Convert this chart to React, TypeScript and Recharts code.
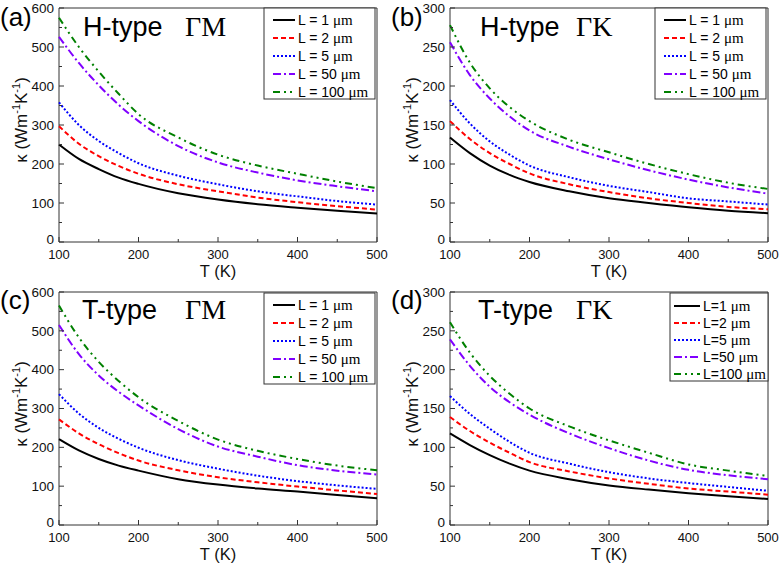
import React from "react";
import { LineChart, Line, XAxis, YAxis, ReferenceArea } from "recharts";

const temperatures = [100, 125, 150, 175, 200, 250, 300, 350, 400, 450, 500];
const xTicks = [100, 150, 200, 250, 300, 350, 400, 450, 500];
const yTicksGM = [0, 50, 100, 150, 200, 250, 300, 350, 400, 450, 500, 550, 600];
const yTicksGK = [0, 25, 50, 75, 100, 125, 150, 175, 200, 225, 250, 275, 300];
const lengthLabels = ["1", "2", "5", "50", "100"];

// (a) H-type, ΓM
const hGM1 = [250, 213, 187, 165, 149, 125, 109, 97, 88, 80, 73];
const hGM2 = [297, 252, 220, 195, 175, 148, 130, 114, 102, 92, 83];
const hGM5 = [358, 300, 259, 228, 202, 170, 148, 130, 117, 105, 96];
const hGM50 = [526, 459, 402, 352, 310, 246, 204, 178, 158, 143, 130];
const hGM100 = [575, 500, 437, 380, 328, 268, 224, 196, 175, 155, 138];

// (b) H-type, ΓK
const hGK1 = [134, 114, 98, 86, 77, 65, 56, 50, 44.5, 40, 37];
const hGK2 = [155, 132, 114, 100, 88, 74, 64, 56, 50, 45, 42];
const hGK5 = [182, 152, 129, 112, 98, 83, 72, 64, 56, 52, 48];
const hGK50 = [256, 214, 184, 161, 143, 122, 106, 92, 80, 70, 62];
const hGK100 = [278, 230, 197, 173, 155, 131, 115, 100, 87, 76, 68];

// (c) T-type, ΓM
const tGM1 = [221, 192, 170, 153, 140, 118, 104, 94, 86, 77, 69];
const tGM2 = [272, 236, 208, 185, 166, 141, 123, 110, 99, 89, 80];
const tGM5 = [337, 287, 250, 222, 199, 167, 145, 127, 113, 102, 93];
const tGM50 = [515, 440, 385, 343, 308, 247, 202, 176, 154, 140, 130];
const tGM100 = [565, 483, 420, 371, 329, 268, 220, 191, 170, 153, 141];

// (d) T-type, ΓK
const tGK1 = [118, 103, 90, 79, 70, 59, 51, 45.6, 41, 37, 33.5];
const tGK2 = [139, 121, 106, 93, 81, 69, 60, 53, 47, 43, 39];
const tGK5 = [166, 143, 124, 107, 93, 79, 68, 60, 54, 49, 44];
const tGK50 = [239, 205, 178, 158, 142, 118, 99, 83, 71, 64, 59];
const tGK100 = [261, 222, 192, 169, 150, 127, 109, 93, 78, 70, 63];

const seriesStyles = [
  { color: "#000000", dash: undefined },
  { color: "#ff0000", dash: "5 3" },
  { color: "#0000ff", dash: "2 2" },
  { color: "#8000ff", dash: "8 3 2 3" },
  { color: "#008000", dash: "7 4 2 4 2 4" },
];

const SANS = "'Liberation Sans', Arial, sans-serif";
const SERIF = "'Liberation Serif', 'Times New Roman', serif";
const FRAME = "#333";

const YTick = (props: any) => {
  const { x, y, payload, labelStep } = props;
  const major = payload.value % labelStep === 0;
  // the zero label sits a little high so it clears the x tick labels
  const lift = payload.value === 0 ? 3 : 0;
  return (
    <g>
      <line x1={x} x2={x + (major ? 5 : 3)} y1={y} y2={y} stroke={FRAME} />
      {major && (
        <text x={x - 5} y={y - lift} dy="0.35em" textAnchor="end" fontSize={13.5} fontFamily={SANS} fill="#111">
          {payload.value}
        </text>
      )}
    </g>
  );
};

const XTick = (props: any) => {
  const { x, y, payload } = props;
  const major = payload.value % 100 === 0;
  return (
    <g>
      <line x1={x} x2={x} y1={y} y2={y - (major ? 5 : 3)} stroke={FRAME} />
      {major && (
        <text x={x} y={y + 16.5} textAnchor="middle" fontSize={13} fontFamily={SANS} fill="#111">
          {payload.value}
        </text>
      )}
    </g>
  );
};

interface PanelProps {
  tag: string;
  kind: string;
  dir: string;
  series: number[][];
  yMax: number;
  yTicks: number[];
  top: number;
  kindX: number;
  legend: { x: number; y: number; w: number; h: number; first: number; gap: number; lineX: number; compact: boolean };
  yLabelY: number;
}

function Panel({ tag, kind, dir, series, yMax, yTicks, top, kindX, legend, yLabelY }: PanelProps) {
  const data = temperatures.map((T, i) => {
    const row: any = { T };
    series.forEach((s, k) => (row[`L${lengthLabels[k]}`] = s[i]));
    return row;
  });

  return (
    <div style={{ position: "relative", width: 391, height: 283 }}>
      <LineChart width={391} height={283} data={data} margin={{ top, right: 14, bottom: 0, left: 0 }}>
        <XAxis
          dataKey="T"
          type="number"
          domain={[100, 500]}
          ticks={xTicks}
          interval={0}
          height={41}
          tickSize={0}
          tickMargin={0}
          axisLine={false}
          tick={(p: any) => <XTick {...p} />}
        />
        <YAxis
          type="number"
          domain={[0, yMax]}
          ticks={yTicks}
          interval={0}
          width={59}
          tickSize={0}
          tickMargin={0}
          axisLine={false}
          tick={(p: any) => <YTick {...p} labelStep={yMax / 6} />}
        />
        <ReferenceArea x1={100} x2={500} y1={0} y2={yMax} fill="none" stroke={FRAME} strokeWidth={1} />
        {lengthLabels.map((len, k) => (
          <Line
            key={len}
            type="monotone"
            dataKey={`L${len}`}
            stroke={seriesStyles[k].color}
            strokeDasharray={seriesStyles[k].dash}
            strokeWidth={2}
            dot={false}
            isAnimationActive={false}
          />
        ))}
      </LineChart>
      <svg width={391} height={283} style={{ position: "absolute", left: 0, top: 0, pointerEvents: "none" }}>
        <text x={0} y={26} fontSize={26} fontFamily={SANS} fill="#000">{tag}</text>
        <text x={kindX} y={36} fontSize={27} fontFamily={SANS} fill="#000">{kind}</text>
        <text x={185} y={36} fontSize={28} fontFamily={SERIF} fill="#000">{dir}</text>
        <text transform={`translate(27,${yLabelY}) rotate(-90)`} textAnchor="middle" fontSize={17} fontFamily={SANS} fill="#111">
          κ (Wm
          <tspan dy={-7} fontSize={11}>-1</tspan>
          <tspan dy={7}>K</tspan>
          <tspan dy={-7} fontSize={11}>-1</tspan>
          <tspan dy={7}>)</tspan>
        </text>
        <text x={218} y={276.5} textAnchor="middle" fontSize={16.5} fontFamily={SANS} fill="#111">T (K)</text>
        <rect x={legend.x} y={legend.y} width={legend.w} height={legend.h} fill="#fff" stroke={FRAME} />
        {lengthLabels.map((len, k) => {
          const cy = legend.y + legend.first + k * legend.gap;
          return (
            <g key={len}>
              <line
                x1={legend.lineX}
                x2={legend.lineX + (legend.compact ? 26 : 22)}
                y1={cy}
                y2={cy}
                stroke={seriesStyles[k].color}
                strokeDasharray={seriesStyles[k].dash}
                strokeWidth={2}
              />
              <text x={legend.lineX + (legend.compact ? 29 : 25)} y={cy + 5} fontSize={14} fontFamily={SANS} fill="#000">
                {legend.compact ? `L=${len} ` : `L = ${len} `}
                <tspan fontFamily={SERIF} fontSize={15}>μm</tspan>
              </text>
            </g>
          );
        })}
      </svg>
    </div>
  );
}

const wideLegend = (y: number) => ({ x: 264, y, w: 111, h: 91, first: 12, gap: 18, lineX: 273, compact: false });

export default function App() {
  return (
    <div style={{ position: "absolute", left: 0, top: 0, width: 782, height: 566, background: "#fff" }}>
      <div style={{ position: "absolute", left: 0, top: 0 }}>
        <Panel tag="(a)" kind="H-type" dir="ΓM" series={[hGM1, hGM2, hGM5, hGM50, hGM100]} yMax={600} yTicks={yTicksGM} top={8} kindX={83} legend={wideLegend(8)} yLabelY={120} />
      </div>
      <div style={{ position: "absolute", left: 391, top: 0 }}>
        <Panel tag="(b)" kind="H-type" dir="ΓK" series={[hGK1, hGK2, hGK5, hGK50, hGK100]} yMax={300} yTicks={yTicksGK} top={8} kindX={89} legend={wideLegend(8)} yLabelY={120} />
      </div>
      <div style={{ position: "absolute", left: 0, top: 283 }}>
        <Panel tag="(c)" kind="T-type" dir="ΓM" series={[tGM1, tGM2, tGM5, tGM50, tGM100]} yMax={600} yTicks={yTicksGM} top={9} kindX={82} legend={wideLegend(10)} yLabelY={121} />
      </div>
      <div style={{ position: "absolute", left: 391, top: 283 }}>
        <Panel
          tag="(d)"
          kind="T-type"
          dir="ΓK"
          series={[tGK1, tGK2, tGK5, tGK50, tGK100]}
          yMax={300}
          yTicks={yTicksGK}
          top={9}
          kindX={87}
          legend={{ x: 279, y: 10, w: 98, h: 88, first: 13, gap: 17, lineX: 283, compact: true }}
          yLabelY={121}
        />
      </div>
    </div>
  );
}
